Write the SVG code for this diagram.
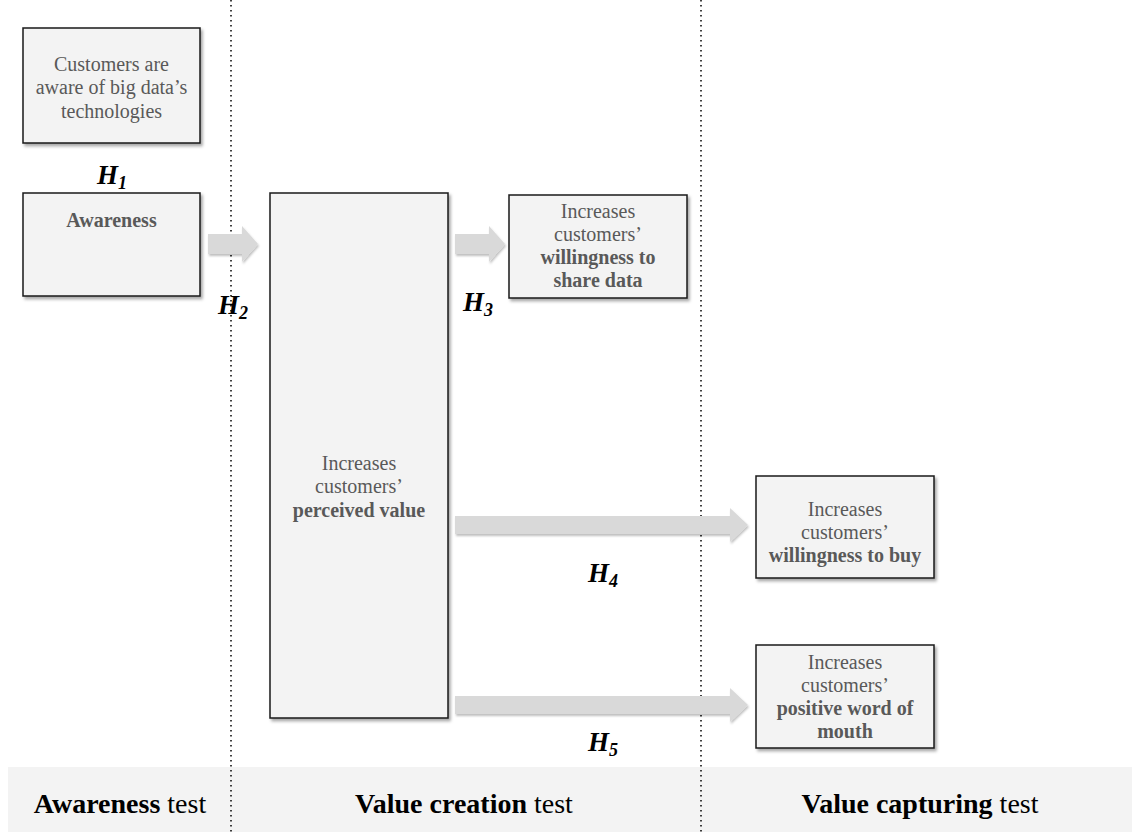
<svg xmlns="http://www.w3.org/2000/svg" width="1132" height="832" viewBox="0 0 1132 832">
<defs>
<filter id="sh" x="-10%" y="-10%" width="130%" height="130%">
<feDropShadow dx="2" dy="2.5" stdDeviation="1.5" flood-color="#000" flood-opacity="0.35"/>
</filter>
<filter id="ash" x="-10%" y="-30%" width="130%" height="180%">
<feDropShadow dx="1" dy="2" stdDeviation="1.2" flood-color="#000" flood-opacity="0.25"/>
</filter>
</defs>
<style>
.box{fill:#f3f3f3;stroke:#1a1a1a;stroke-width:1.5;filter:url(#sh)}
.t{font-family:"Liberation Serif","Times New Roman",serif;font-size:20px;fill:#595959;text-anchor:middle}
.b{font-weight:bold}
.h{font-family:"Liberation Serif","Times New Roman",serif;font-size:27px;font-weight:bold;font-style:italic;fill:#000}
.sub{font-size:18px}
.arr{fill:#d9d9d9;filter:url(#ash)}
.dot{stroke:#000;stroke-width:1.5;stroke-dasharray:1.5 3.5;fill:none}
.lab{font-family:"Liberation Serif","Times New Roman",serif;font-size:28px;fill:#000;text-anchor:middle}
</style>
<rect x="8" y="767" width="1124" height="65" fill="#f3f3f3"/>
<g id="dividers">
<line class="dot" x1="231" y1="0" x2="231" y2="832"/>
<line class="dot" x1="701" y1="0" x2="701" y2="832"/>
</g>
<g id="connectors">
<polygon class="arr" points="208,234 242,234 242,226 258,244 242,262 242,254 208,254"/>
<polygon class="arr" points="455,234 489,234 489,226 505,244 489,262 489,254 455,254"/>
<polygon class="arr" points="455,516 730,516 730,508 748,525 730,542 730,534 455,534"/>
<polygon class="arr" points="455,696 730,696 730,688 748,705 730,722 730,714 455,714"/>
</g>
<g id="n-aware-tech">
<rect class="box" x="23" y="28" width="177" height="115"/>
<text class="t" x="111.5" y="71">Customers are</text>
<text class="t" x="111.5" y="94">aware of big data’s</text>
<text class="t" x="111.5" y="118">technologies</text>
</g>
<g id="n-awareness">
<rect class="box" x="23" y="193" width="177" height="103"/>
<text class="t b" x="111.5" y="227">Awareness</text>
</g>
<g id="n-perceived">
<rect class="box" x="270" y="193" width="178" height="525"/>
<text class="t" x="359" y="470">Increases</text>
<text class="t" x="359" y="493">customers’</text>
<text class="t b" x="359" y="517">perceived value</text>
</g>
<g id="n-share">
<rect class="box" x="509" y="195" width="178" height="103"/>
<text class="t" x="598" y="218">Increases</text>
<text class="t" x="598" y="241">customers’</text>
<text class="t b" x="598" y="264">willingness to</text>
<text class="t b" x="598" y="287">share data</text>
</g>
<g id="n-buy">
<rect class="box" x="756" y="476" width="178" height="102"/>
<text class="t" x="845" y="516">Increases</text>
<text class="t" x="845" y="539">customers’</text>
<text class="t b" x="845" y="562">willingness to buy</text>
</g>
<g id="n-wom">
<rect class="box" x="756" y="645" width="178" height="103"/>
<text class="t" x="845" y="669">Increases</text>
<text class="t" x="845" y="692">customers’</text>
<text class="t b" x="845" y="715">positive word of</text>
<text class="t b" x="845" y="738">mouth</text>
</g>
<g id="hyp-labels">
<text class="h" x="97" y="184">H<tspan class="sub" dy="5">1</tspan></text>
<text class="h" x="218" y="314">H<tspan class="sub" dy="5">2</tspan></text>
<text class="h" x="463" y="311">H<tspan class="sub" dy="5">3</tspan></text>
<text class="h" x="588" y="582">H<tspan class="sub" dy="5">4</tspan></text>
<text class="h" x="588" y="751">H<tspan class="sub" dy="5">5</tspan></text>
</g>
<g id="test-labels">
<text class="lab" x="120" y="813"><tspan font-weight="bold">Awareness</tspan> test</text>
<text class="lab" x="464" y="813"><tspan font-weight="bold">Value creation</tspan> test</text>
<text class="lab" x="920" y="813"><tspan font-weight="bold">Value capturing</tspan> test</text>
</g>
</svg>
